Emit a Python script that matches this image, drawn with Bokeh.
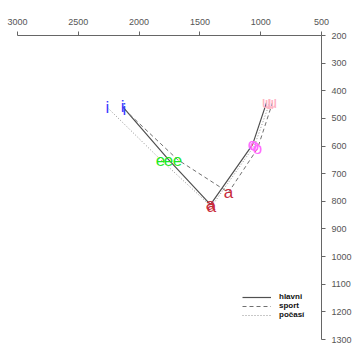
import math
from bokeh.plotting import figure
from bokeh.models import Range1d, FixedTicker, Label, Legend, LegendItem, ColumnDataSource
from bokeh.embed import file_html
from bokeh.resources import INLINE
from bokeh.core.properties import value

vowels = ["i", "e", "a", "o", "u"]
vowel_colors = ["#3b3bff", "#1fe81f", "#c82a3a", "#ff6cff", "#ffb3c3"]
styles = ["hlavni", "sport", "počasí"]

f2_hlavni = [2136, 1758, 1413, 1067, 952]
f1_hlavni = [457, 649, 812, 595, 443]
f2_sport = [2120, 1684, 1265, 1026, 903]
f1_sport = [468, 649, 768, 609, 443]
f2_pocasi = [2260, 1824, 1405, 1051, 928]
f1_pocasi = [461, 649, 819, 598, 446]

x_ticks = [3000, 2500, 2000, 1500, 1000, 500]
y_ticks = [200, 300, 400, 500, 600, 700, 800, 900, 1000, 1100, 1200, 1300]

FONT = "Liberation Sans"

p = figure(width=360, height=349, x_range=Range1d(3000, 500), y_range=Range1d(1300, 200),
           x_axis_location="above", y_axis_location="right",
           toolbar_location=None, output_backend="svg",
           min_border_left=17, min_border_right=39, min_border_top=35, min_border_bottom=10)
p.outline_line_color = None
p.grid.visible = False
p.background_fill_color = "white"

for ax, ticks in ((p.xaxis[0], x_ticks), (p.yaxis[0], y_ticks)):
    ax.ticker = FixedTicker(ticks=ticks)
    ax.axis_line_color = "#666666"
    ax.major_tick_line_color = "#666666"
    ax.minor_tick_line_color = None
    ax.major_tick_out = 4
    ax.major_tick_in = 0
    ax.major_label_text_font = FONT
    ax.major_label_text_font_size = "9px"
    ax.major_label_text_color = "#555555"
p.xaxis.major_label_standoff = 7
p.yaxis.major_label_standoff = 6

series = [
    ("hlavni", f2_hlavni, f1_hlavni, "solid", "#505050", 1.2),
    ("sport", f2_sport, f1_sport, "4 3", "#707070", 1.0),
    ("počasí", f2_pocasi, f1_pocasi, "1 2", "#909090", 1.0),
]

items = []
for name, xs, ys, dash, col, lw in series:
    r = p.line(xs, ys, line_color=col, line_dash=dash, line_width=lw)
    items.append(LegendItem(label=name, renderers=[r]))

for name, xs, ys, dash, col, lw in reversed(series):
    src = ColumnDataSource(dict(x=xs, y=ys, t=vowels, c=vowel_colors))
    p.text(x="x", y="y", text="t", text_color="c", source=src,
           text_font=value(FONT), text_font_size="17px",
           text_align="center", text_baseline="middle")

legend = Legend(items=items, location=(225, 20), orientation="vertical",
                border_line_color=None, background_fill_alpha=0,
                label_text_font=FONT, label_text_font_size="8px",
                label_text_font_style="bold", label_text_color="#111111",
                label_height=8, glyph_height=8, glyph_width=29, spacing=0,
                padding=0, margin=0, label_standoff=8)
p.add_layout(legend)

p.add_layout(Label(x=1766, y=117, text="F2", text_font=FONT, text_font_size="9px",
                   text_color="#444444", text_align="center", text_baseline="middle"))
p.add_layout(Label(x=229, y=746, text="F1", text_font=FONT, text_font_size="9px",
                   text_color="#444444", text_align="center", text_baseline="middle",
                   angle=math.pi / 2))

open("out.html", "w").write(file_html(p, INLINE))
